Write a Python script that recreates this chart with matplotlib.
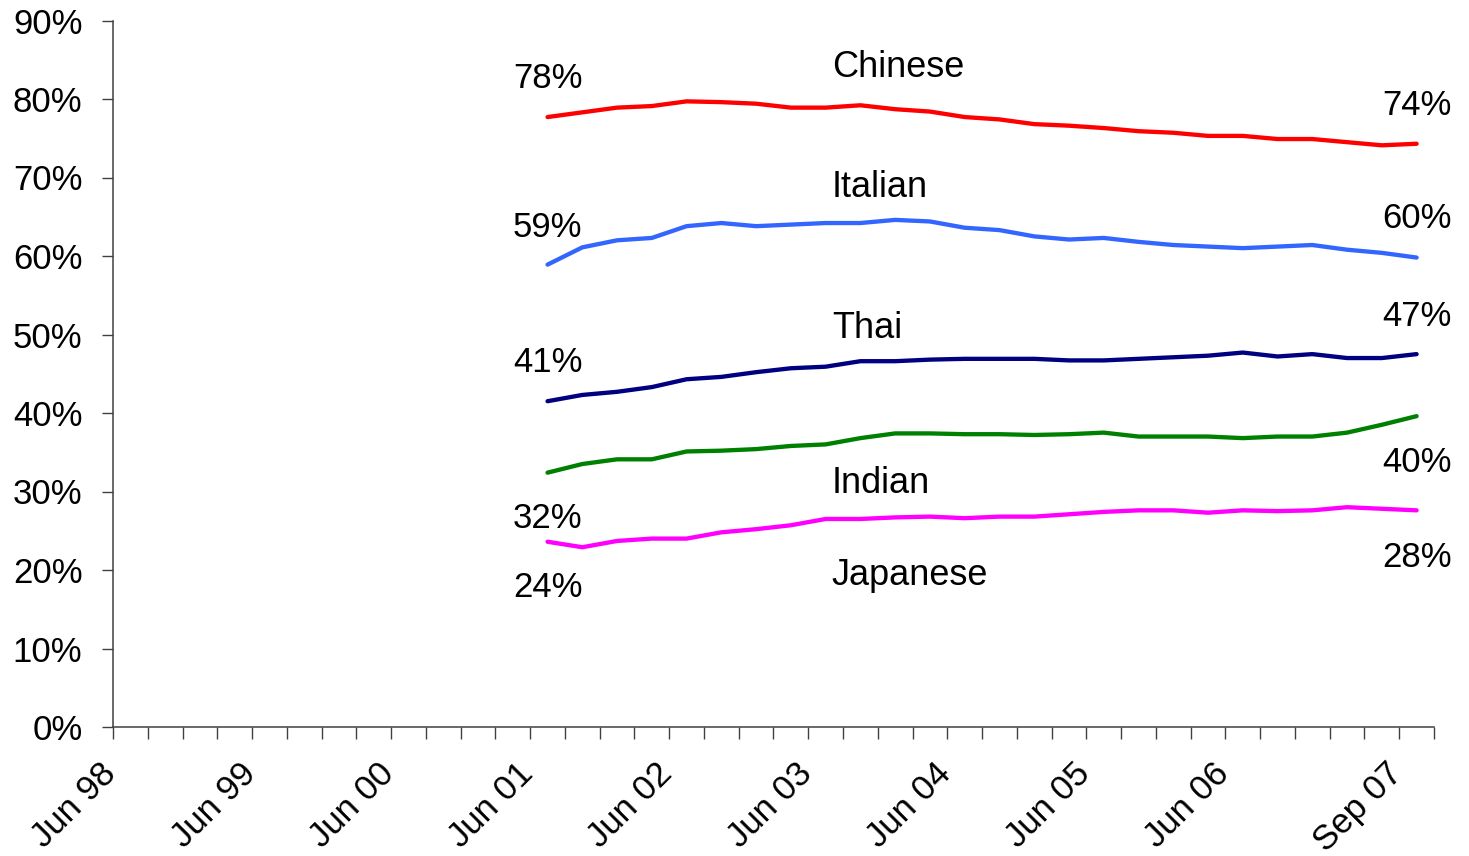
import matplotlib
matplotlib.use("Agg")
import matplotlib.pyplot as plt
import matplotlib.transforms as mtrans
import numpy as np

plt.rcParams['font.family'] = ['Liberation Sans', 'DejaVu Sans']

# ---- data ----
years = ['98', '99', '00', '01', '02', '03', '04', '05', '06', '07']
months = ['Mar', 'Jun', 'Sep', 'Dec']
quarters = []
for y in years:
    for m in months:
        quarters.append(f"{m} {y}")
quarters = quarters[1:quarters.index('Sep 07') + 1]   # Jun 98 .. Sep 07 (38 quarters)
shown_labels = ['Jun 98', 'Jun 99', 'Jun 00', 'Jun 01', 'Jun 02', 'Jun 03',
                'Jun 04', 'Jun 05', 'Jun 06', 'Sep 07']
start_quarter = 'Jun 01'

chinese = [77.7, 78.3, 78.9, 79.1, 79.7, 79.6, 79.4, 78.9, 78.9, 79.2, 78.7, 78.4, 77.7,
           77.4, 76.8, 76.6, 76.3, 75.9, 75.7, 75.3, 75.3, 74.9, 74.9, 74.5, 74.1, 74.3]
italian = [58.9, 61.1, 62.0, 62.3, 63.8, 64.2, 63.8, 64.0, 64.2, 64.2, 64.6, 64.4, 63.6,
           63.3, 62.5, 62.1, 62.3, 61.8, 61.4, 61.2, 61.0, 61.2, 61.4, 60.8, 60.4, 59.8]
thai = [41.5, 42.3, 42.7, 43.3, 44.3, 44.6, 45.2, 45.7, 45.9, 46.6, 46.6, 46.8, 46.9,
        46.9, 46.9, 46.7, 46.7, 46.9, 47.1, 47.3, 47.7, 47.2, 47.5, 47.0, 47.0, 47.5]
indian = [32.4, 33.5, 34.1, 34.1, 35.1, 35.2, 35.4, 35.8, 36.0, 36.8, 37.4, 37.4, 37.3,
          37.3, 37.2, 37.3, 37.5, 37.0, 37.0, 37.0, 36.8, 37.0, 37.0, 37.5, 38.5, 39.6]
japanese = [23.6, 22.9, 23.7, 24.0, 24.0, 24.8, 25.2, 25.7, 26.5, 26.5, 26.7, 26.8, 26.6,
            26.8, 26.8, 27.1, 27.4, 27.6, 27.6, 27.3, 27.6, 27.5, 27.6, 28.0, 27.8, 27.6]

series_names = ['Chinese', 'Italian', 'Thai', 'Indian', 'Japanese']
series_values = [chinese, italian, thai, indian, japanese]
series_colors = ['#FF0000', '#3366FF', '#000080', '#008000', '#FF00FF']
start_labels = ['78%', '59%', '41%', '32%', '24%']
end_labels = ['74%', '60%', '47%', '40%', '28%']
yticks = list(range(0, 91, 10))

# ---- figure ----
fig = plt.figure(figsize=(14.69, 8.56), dpi=100)
ax = fig.add_axes([113 / 1469, 1 - 727 / 856, (1434 - 113) / 1469, (727 - 20.5) / 856])

s = quarters.index(start_quarter)
xs = np.arange(s, s + len(chinese)) + 0.5
for vals, col in zip(series_values, series_colors):
    ax.plot(xs, vals, color=col, lw=3.1, solid_capstyle='round', solid_joinstyle='round')

ax.set_xlim(0, len(quarters))
ax.set_ylim(0, 90)

FS = 25
FS_NAME = 26
# x axis: ticks at every quarter edge
edges = np.arange(len(quarters) + 1)
labels = [''] * len(edges)
for lab in shown_labels:
    labels[quarters.index(lab)] = lab
ax.set_xticks(edges)
ax.set_xticklabels(labels, fontsize=FS)
ax.tick_params(axis='x', direction='out', length=8.6, width=1, color='#404040', pad=26)
offset = mtrans.ScaledTranslation(5 / 100, 0, fig.dpi_scale_trans)
for lab in ax.get_xticklabels():
    lab.set_rotation(45)
    lab.set_ha('right')
    lab.set_va('baseline')
    lab.set_rotation_mode('anchor')
    lab.set_transform(lab.get_transform() + offset)

ax.set_yticks(yticks)
ax.set_yticklabels([f"{v}%" for v in yticks], fontsize=FS)
ax.tick_params(axis='y', direction='out', length=8, width=1, color='#404040', pad=14)

for side in ['top', 'right']:
    ax.spines[side].set_visible(False)
for side in ['left', 'bottom']:
    ax.spines[side].set_color('#404040')
    ax.spines[side].set_linewidth(1.1)

# annotations
name_y = [82.76, 67.55, 49.52, 29.77, 18.09]
start_y = [81.36, 62.46, 45.26, 25.31, 16.6]
end_y = [77.96, 63.53, 51.08, 32.52, 20.42]
for nm, ny, sl, sy, el, ey in zip(series_names, name_y, start_labels, start_y, end_labels, end_y):
    ax.text(20.68, ny, nm, fontsize=FS_NAME, ha='left', va='baseline')
    ax.text(xs[0], sy, sl, fontsize=FS, ha='center', va='baseline')
    ax.text(xs[-1], ey, el, fontsize=FS, ha='center', va='baseline', clip_on=False)

fig.savefig('out.png', dpi=100)
